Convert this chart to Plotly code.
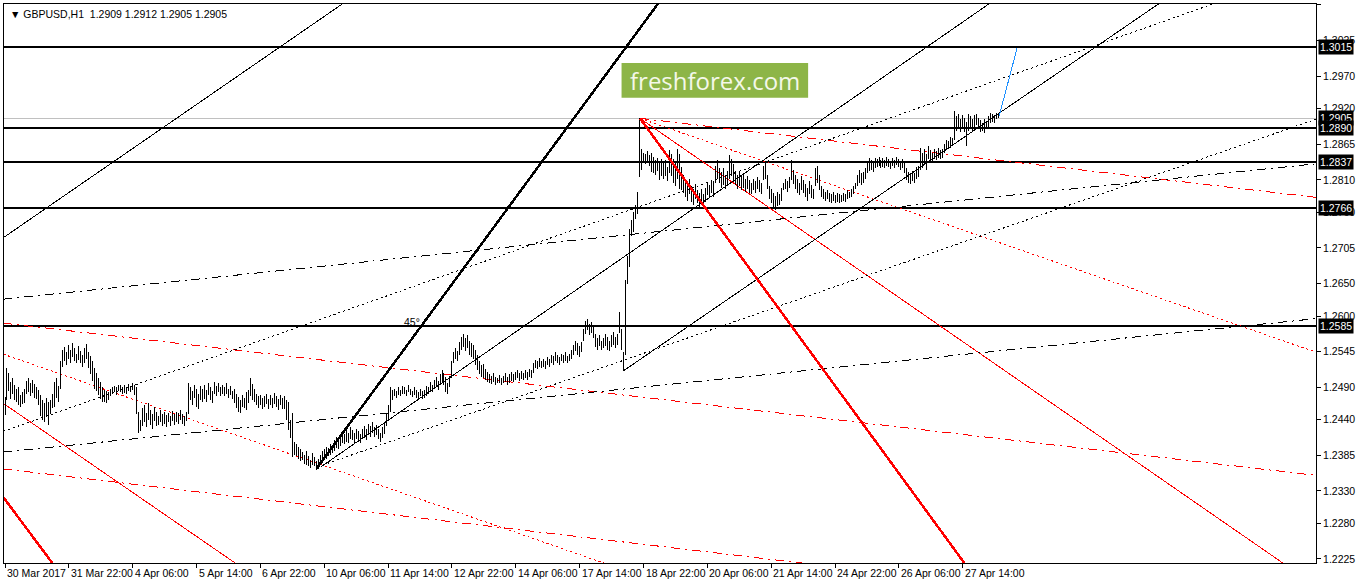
import plotly.graph_objects as go

# GBPUSD H1 bars, values are the last four digits of the price (1.xxxx)
highs = [
    2475, 2520, 2512, 2498, 2505, 2494, 2488, 2490, 2478, 2482,
    2488, 2500, 2505, 2497, 2502, 2495, 2490, 2486, 2478, 2470,
    2466, 2474, 2468, 2470, 2480, 2498, 2504, 2492, 2530, 2548,
    2552, 2545, 2556, 2548, 2558, 2550, 2542, 2553, 2546, 2540,
    2550, 2557, 2544, 2538, 2530, 2520, 2512, 2505, 2498, 2490,
    2486, 2484, 2482, 2488, 2490, 2492, 2490, 2494, 2493, 2491,
    2494, 2490, 2495, 2492, 2496, 2494, 2490, 2452, 2440, 2458,
    2462, 2450, 2466, 2455, 2448, 2460, 2452, 2445, 2455, 2448,
    2452, 2447, 2450, 2446, 2454, 2448, 2452, 2450, 2455, 2449,
    2446, 2452, 2496, 2490, 2484, 2494, 2488, 2480, 2492, 2488,
    2494, 2486, 2496, 2490, 2485, 2498, 2492, 2496, 2490, 2494,
    2490, 2496, 2488, 2492, 2485, 2488, 2480, 2475, 2470, 2478,
    2474, 2482, 2486, 2504, 2495, 2488, 2480, 2476, 2478, 2474,
    2476, 2480, 2472, 2478, 2474, 2481, 2476, 2472, 2478, 2474,
    2476, 2470, 2468, 2440, 2450, 2406, 2402, 2398, 2394, 2390,
    2386, 2392, 2384, 2378, 2388, 2382, 2376, 2380, 2386, 2392,
    2394, 2398, 2396, 2402, 2400, 2408, 2414, 2410, 2418, 2422,
    2418, 2424, 2420, 2428, 2424, 2420, 2426, 2422, 2418, 2426,
    2430, 2426, 2434, 2430, 2436, 2428, 2432, 2426, 2420, 2428,
    2436, 2450, 2462, 2490, 2486, 2488, 2484, 2490, 2486, 2492,
    2490, 2486, 2493, 2488, 2484, 2490, 2486, 2482, 2488, 2484,
    2486, 2492, 2490, 2498, 2494, 2502, 2506, 2500, 2510, 2516,
    2512, 2506, 2496, 2508, 2530, 2545, 2550, 2546, 2560, 2568,
    2572, 2566, 2570, 2562, 2558, 2555, 2548, 2540, 2530, 2524,
    2526, 2518, 2514, 2510, 2508, 2512, 2506, 2504, 2509, 2505,
    2508, 2512, 2506, 2510, 2514, 2510, 2514, 2516, 2512, 2515,
    2512, 2516, 2514, 2518, 2516, 2528, 2532, 2530, 2535, 2530,
    2534, 2530, 2536, 2533, 2540, 2538, 2544, 2540, 2536, 2542,
    2540, 2544, 2538, 2542, 2548, 2556, 2562, 2558, 2554, 2560,
    2580, 2592, 2596, 2588, 2590, 2584, 2572, 2566, 2570, 2562,
    2566, 2572, 2568, 2562, 2570, 2575, 2568, 2572, 2606, 2580,
    2545, 2655, 2692, 2734, 2748, 2760, 2772, 2792, 2905, 2858,
    2852, 2850, 2855, 2848, 2852, 2846, 2840, 2844, 2838, 2842,
    2836, 2840, 2830, 2856, 2850, 2842, 2838, 2858, 2850, 2830,
    2818, 2810, 2806, 2812, 2800, 2796, 2804, 2794, 2790, 2796,
    2788, 2798, 2806, 2802, 2810, 2808, 2832, 2840, 2828, 2822,
    2828, 2818, 2824, 2848, 2842, 2835, 2824, 2818, 2822, 2816,
    2820, 2812, 2816, 2810, 2806, 2812, 2808, 2814, 2810, 2806,
    2832, 2837, 2818, 2800, 2796, 2790, 2785, 2792, 2788, 2798,
    2806, 2812, 2808, 2814, 2840, 2826, 2818, 2812, 2806, 2816,
    2810, 2804, 2798, 2808, 2802, 2796, 2828, 2832, 2818, 2800,
    2796, 2792, 2794, 2790, 2788, 2792, 2786, 2790, 2788, 2786,
    2790, 2788, 2794, 2792, 2796, 2800, 2806, 2818, 2825, 2820,
    2822, 2828, 2836, 2844, 2840, 2838, 2844, 2842, 2846, 2840,
    2844, 2840, 2846, 2842, 2838, 2844, 2840, 2846, 2842, 2838,
    2842, 2836, 2828, 2822, 2818, 2824, 2820, 2830, 2832, 2860,
    2852, 2858, 2850, 2862, 2856, 2852, 2858, 2855, 2860, 2856,
    2858, 2866, 2872, 2870, 2876, 2874, 2917, 2908, 2912, 2904,
    2910, 2906, 2900, 2912, 2908, 2904, 2910, 2912, 2906, 2902,
    2898, 2904, 2900, 2908, 2914, 2912, 2910, 2914, 2912,
]
lows = [
    2447, 2470, 2484, 2472, 2480, 2470, 2468, 2462, 2459, 2464,
    2466, 2480, 2483, 2476, 2481, 2474, 2472, 2462, 2445, 2440,
    2436, 2444, 2432, 2448, 2458, 2460, 2474, 2468, 2488, 2522,
    2530, 2524, 2534, 2528, 2536, 2530, 2527, 2532, 2528, 2522,
    2528, 2534, 2520, 2510, 2500, 2488, 2484, 2478, 2472, 2468,
    2468, 2466, 2470, 2476, 2480, 2482, 2478, 2484, 2482, 2480,
    2481, 2479, 2484, 2482, 2486, 2478, 2448, 2419, 2422, 2430,
    2436, 2428, 2440, 2432, 2426, 2438, 2430, 2432, 2436, 2431,
    2433, 2429, 2436, 2430, 2438, 2432, 2437, 2434, 2440, 2433,
    2430, 2438, 2448, 2470, 2462, 2474, 2460, 2456, 2470, 2468,
    2472, 2468, 2478, 2470, 2466, 2480, 2476, 2482, 2476, 2480,
    2477, 2480, 2474, 2478, 2472, 2466, 2458, 2452, 2450, 2460,
    2458, 2455, 2466, 2476, 2470, 2468, 2462, 2458, 2462, 2456,
    2460, 2464, 2456, 2462, 2458, 2464, 2460, 2455, 2462, 2457,
    2456, 2440, 2424, 2412, 2382, 2386, 2384, 2380, 2376, 2378,
    2372, 2370, 2368, 2366, 2370, 2368, 2362, 2364, 2370, 2374,
    2378, 2380, 2384, 2386, 2388, 2392, 2396, 2394, 2400, 2404,
    2402, 2406, 2404, 2410, 2408, 2404, 2410, 2406, 2404, 2410,
    2412, 2408, 2416, 2414, 2420, 2414, 2416, 2410, 2406, 2412,
    2418, 2430, 2440, 2452, 2470, 2476, 2474, 2478, 2476, 2480,
    2480, 2476, 2482, 2478, 2475, 2478, 2474, 2472, 2476, 2472,
    2474, 2476, 2480, 2484, 2482, 2488, 2490, 2486, 2494, 2498,
    2494, 2482, 2480, 2490, 2504, 2528, 2534, 2530, 2540, 2548,
    2552, 2546, 2550, 2540, 2536, 2534, 2524, 2516, 2510, 2506,
    2504, 2502, 2498, 2496, 2495, 2498, 2494, 2496, 2497, 2494,
    2496, 2498, 2494, 2497, 2500, 2498, 2502, 2504, 2500, 2503,
    2501, 2504, 2502, 2506, 2504, 2512, 2520, 2518, 2522, 2519,
    2522, 2518, 2524, 2522, 2528, 2525, 2530, 2528, 2524, 2530,
    2528, 2531, 2527, 2530, 2534, 2540, 2546, 2540, 2536, 2544,
    2562, 2572, 2578, 2570, 2574, 2566, 2552, 2548, 2554, 2547,
    2550, 2554, 2548, 2546, 2552, 2556, 2550, 2555, 2574, 2547,
    2515, 2540, 2650, 2676, 2724, 2730, 2750, 2758, 2815, 2826,
    2836, 2834, 2838, 2832, 2822, 2820, 2818, 2824, 2810, 2816,
    2812, 2816, 2808, 2820, 2816, 2806, 2800, 2812, 2796, 2794,
    2790, 2784, 2778, 2788, 2776, 2772, 2780, 2774, 2768, 2772,
    2767, 2776, 2786, 2782, 2790, 2784, 2806, 2812, 2806, 2798,
    2802, 2796, 2800, 2812, 2816, 2810, 2802, 2796, 2800, 2794,
    2798, 2792, 2796, 2790, 2789, 2794, 2790, 2796, 2792, 2789,
    2810, 2812, 2796, 2780, 2774, 2768, 2764, 2770, 2772, 2778,
    2794, 2796, 2792, 2798, 2810, 2804, 2796, 2790, 2786, 2794,
    2790, 2784, 2778, 2788, 2782, 2780, 2800, 2806, 2794, 2784,
    2780, 2778, 2780, 2776, 2774, 2778, 2775, 2776, 2774, 2776,
    2778, 2776, 2780, 2782, 2784, 2788, 2796, 2800, 2806, 2802,
    2806, 2812, 2820, 2824, 2826, 2822, 2828, 2830, 2832, 2828,
    2830, 2828, 2832, 2830, 2827, 2831, 2829, 2833, 2830, 2826,
    2828, 2820, 2810, 2806, 2804, 2808, 2806, 2812, 2814, 2826,
    2828, 2834, 2826, 2842, 2840, 2838, 2842, 2840, 2844, 2842,
    2844, 2852, 2856, 2858, 2860, 2862, 2872, 2886, 2890, 2884,
    2888, 2884, 2863, 2886, 2890, 2886, 2892, 2894, 2888, 2884,
    2886, 2882, 2888, 2892, 2898, 2900, 2898, 2904, 2905,
]

# time axis labels, one every 32 bars
time_labels = [
    "30 Mar 2017", "31 Mar 22:00", "4 Apr 06:00", "5 Apr 14:00", "6 Apr 22:00",
    "10 Apr 06:00", "11 Apr 14:00", "12 Apr 22:00", "14 Apr 06:00", "17 Apr 14:00",
    "18 Apr 22:00", "20 Apr 06:00", "21 Apr 14:00", "24 Apr 22:00", "26 Apr 06:00",
    "27 Apr 14:00",
]
price_ticks = [
    1.3080, 1.3025, 1.2970, 1.2920, 1.2865, 1.2810, 1.2760, 1.2705, 1.2650,
    1.2600, 1.2545, 1.2490, 1.2440, 1.2385, 1.2330, 1.2280, 1.2225,
]
levels = [1.3015, 1.2890, 1.2837, 1.2766, 1.2585]
bid = 1.2905
level_labels = [1.3015, 1.2905, 1.2890, 1.2837, 1.2766, 1.2585]

# trend lines as (bar0, price0, bar1, price1)
black_solid = [
    (-0.75, 1.2721, 169.25, 1.3082),
    (158.25, 1.2367, 493.25, 1.3082),
    (309.75, 1.2515, 578.25, 1.3082),
]
black_thick = [(156.25, 1.2365, 327.25, 1.3082)]
black_dot = [
    (-0.75, 1.2422, 605.75, 1.3082),
    (159.25, 1.2370, 657.25, 1.2904),
]
black_dashdot = [
    (-0.75, 1.2626, 657.25, 1.2835),
    (-0.75, 1.2390, 657.25, 1.2596),
]
red_thick = [
    (318.25, 1.2905, 494.2, 1.2162),
    (-0.75, 1.2320, 28.25, 1.2200),
]
red_solid = [
    (318.25, 1.2905, 648.25, 1.2202),
    (-0.75, 1.2465, 123.25, 1.2202),
]
red_dot = [
    (318.25, 1.2905, 657.25, 1.2544),
    (-0.75, 1.2541, 308.25, 1.2210),
]
red_dashdot = [
    (318.25, 1.2905, 657.25, 1.2783),
    (-0.75, 1.2589, 657.25, 1.2354),
    (-0.75, 1.2364, 448.25, 1.2201),
]
blue_solid = [(498.25, 1.2909, 507.25, 1.3014)]

FONT = "Liberation Sans, Arial, sans-serif"
FSIZE = 10.5

# no body margin, and aliased line drawing like the terminal does
PAGE_JS = """
document.body.style.margin = '0';
document.querySelectorAll('.scatterlayer path').forEach(function (p) {
    p.style.shapeRendering = 'crispEdges';
});
"""


def main():
    fig = go.Figure()

    def add_lines(lines, color, width, dash="solid"):
        xs, ys = [], []
        for x0, y0, x1, y1 in lines:
            xs += [x0, x1, None]
            ys += [y0, y1, None]
        fig.add_trace(
            go.Scatter(
                x=xs, y=ys, mode="lines", showlegend=False, hoverinfo="skip",
                line=dict(color=color, width=width, dash=dash),
            )
        )

    # horizontal levels
    for lv in levels:
        add_lines([(-5, lv, 700, lv)], "black", 2)
    add_lines([(-5, bid, 700, bid)], "#c0c0c0", 1)

    add_lines(red_dashdot, "#ff0000", 1, "9px,5px,2px,5px")
    add_lines(red_dot, "#ff0000", 1, "2px,3px")
    add_lines(red_solid, "#ff0000", 1)
    add_lines(black_dashdot, "black", 1, "9px,5px,2px,5px")
    add_lines(black_dot, "black", 1, "2px,3px")
    add_lines(black_solid, "black", 1)

    # price bars (high-low sticks)
    bx, by = [], []
    for i, (h, l) in enumerate(zip(highs, lows)):
        bx += [i, i, None]
        by += [1 + l / 10000, 1 + h / 10000, None]
    fig.add_trace(
        go.Scatter(
            x=bx, y=by, mode="lines", showlegend=False, hoverinfo="skip",
            line=dict(color="black", width=1),
        )
    )

    add_lines(black_thick, "black", 2.5)
    add_lines(red_thick, "#ff0000", 2.5)
    add_lines(blue_solid, "#1e90ff", 1)

    annotations = []
    for k, t in enumerate(time_labels):
        annotations.append(dict(
            x=k * 32, y=0, xref="x", yref="paper", text=t, showarrow=False,
            xanchor="left", yanchor="top", xshift=0, yshift=-2,
            font=dict(family=FONT, size=FSIZE, color="black"),
        ))
    for lv in level_labels:
        annotations.append(dict(
            x=1, y=lv, xref="paper", yref="y", text=f"{lv:.4f}", showarrow=False,
            xanchor="left", yanchor="middle", xshift=2, bgcolor="black",
            borderpad=1, font=dict(family=FONT, size=FSIZE, color="white"),
        ))
    annotations.append(dict(
        x=203.75, y=1.2590, xref="x", yref="y", text="45°", showarrow=False,
        xanchor="center", yanchor="middle",
        font=dict(family=FONT, size=FSIZE, color="black"),
    ))
    annotations.append(dict(
        x=0, y=1, xref="paper", yref="paper", showarrow=False,
        text="▼ GBPUSD,H1  1.2909 1.2912 1.2905 1.2905",
        xanchor="left", yanchor="top", xshift=4, yshift=-2,
        font=dict(family=FONT, size=FSIZE, color="black"),
    ))
    annotations.append(dict(
        x=0.5418, y=0.8634, xref="paper", yref="paper", showarrow=False,
        text="freshforex.com", xanchor="center", yanchor="middle",
        font=dict(family="Open Sans", size=24, color="#f4f8ea"),
    ))

    fig.add_shape(
        type="rect", xref="paper", yref="paper",
        x0=0.4707, x1=0.6129, y0=0.8321, y1=0.8946,
        fillcolor="#8db547", line_width=0, layer="above",
    )

    fig.update_xaxes(
        range=[-0.5, 657.0],
        tickvals=[k * 32 for k in range(len(time_labels))],
        showticklabels=False,
        ticks="outside", ticklen=4, tickcolor="black",
        showgrid=False, zeroline=False,
        showline=True, linecolor="black", linewidth=1, mirror=True,
    )
    fig.update_yaxes(
        range=[1.22188, 1.30815],
        side="right",
        tickvals=price_ticks,
        ticktext=[f"{p:.4f}" for p in price_ticks],
        ticks="outside", ticklen=4, tickcolor="black",
        tickfont=dict(family=FONT, size=FSIZE, color="black"),
        showgrid=False, zeroline=False,
        showline=True, linecolor="black", linewidth=1, mirror=True,
    )
    fig.update_layout(
        width=1358,
        height=584,
        margin=dict(l=3, r=40, t=3, b=21),
        plot_bgcolor="white",
        paper_bgcolor="white",
        annotations=annotations,
        hovermode=False,
    )
    fig.write_html(
        "out.html",
        config={"displayModeBar": False},
        post_script=PAGE_JS,
    )


if __name__ == "__main__":
    main()
